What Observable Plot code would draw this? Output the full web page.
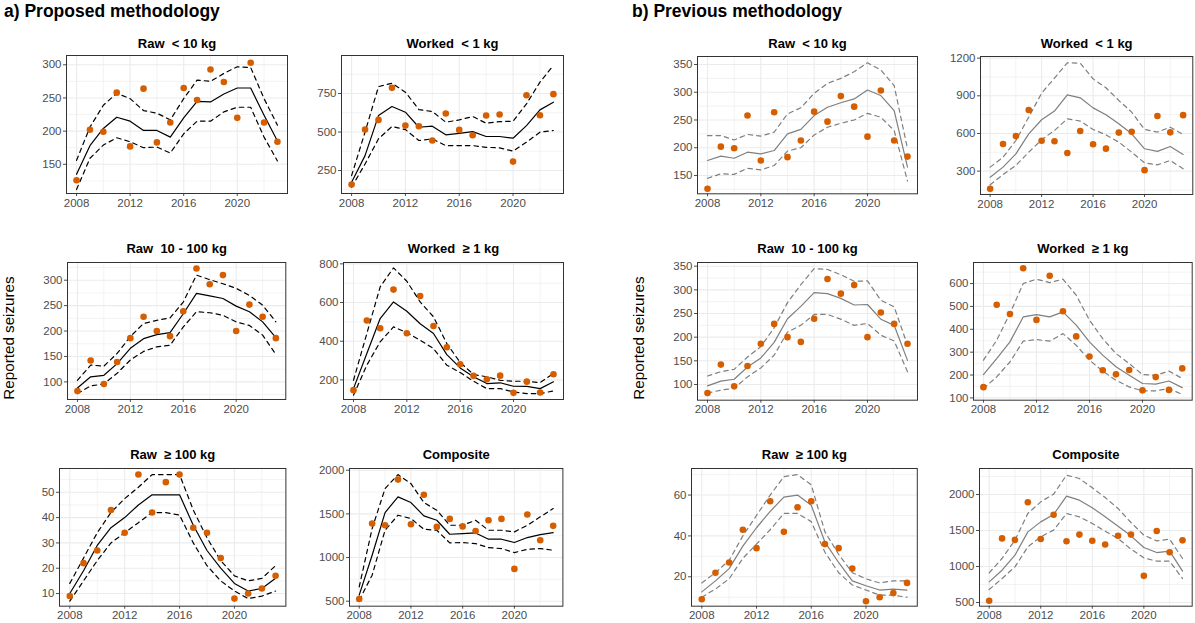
<!DOCTYPE html>
<html><head><meta charset="utf-8">
<script src="https://cdn.jsdelivr.net/npm/d3@7"></script>
<script src="https://cdn.jsdelivr.net/npm/@observablehq/plot@0.6"></script>
<style>
body{margin:0;background:#fff;font-family:"Liberation Sans",Arial,sans-serif;}
#wrap{position:relative;width:1195px;height:623px;overflow:hidden;background:#fff;}
.panel{position:absolute;}
.main{position:absolute;font-weight:bold;font-size:17.5px;top:1px;color:#000;white-space:nowrap;}
.ytitle{position:absolute;font-size:15.2px;color:#000;white-space:nowrap;transform:translate(-50%,-50%) rotate(-90deg);}
</style></head><body><div id="wrap"></div>
<script>
// ---------- data ----------
const years = [2008,2009,2010,2011,2012,2013,2014,2015,2016,2017,2018,2019,2020,2021,2022,2023];
const xTicks = [2008,2012,2016,2020];

// Raw < 10 kg
const obsRS   = [126,202,199,258,177,264,183,213,265,247,293,274,220,303,213,184];
const propRSmid = [135,178,204,221,215,201,201,191,220,245,244,256,265,265,224,185];
const propRSlo  = [112,159,179,190,184,175,176,167,196,215,215,229,236,236,191,155];
const propRShi  = [156,206,239,257,249,231,227,217,249,277,275,287,297,296,249,209];
const prevRSmid = [177,185,181,192,189,195,225,233,258,273,281,288,304,294,267,165];
const prevRSlo  = [145,153,152,163,160,168,194,200,223,237,244,250,262,255,231,140];
const prevRShi  = [222,222,214,224,221,228,261,272,298,316,325,337,353,340,312,198];

// Worked < 1 kg
const obsWS   = [159,516,579,787,542,538,445,620,514,479,607,614,308,739,609,746];
const propWSmid = [174,347,607,666,629,531,538,482,492,503,471,471,460,542,644,694];
const propWSlo  = [142,293,456,536,516,445,456,412,412,412,401,397,376,434,499,510];
const propWShi  = [217,500,795,817,759,646,633,564,579,601,557,568,570,683,824,932];
const prevWSmid = [252,332,438,597,709,778,908,884,804,749,677,597,478,457,496,433];
const prevWSlo  = [191,273,345,451,550,624,717,699,632,589,531,451,366,350,385,319];
const prevWShi  = [332,411,544,730,921,1041,1163,1160,1035,964,863,770,632,611,650,592];

// Raw 10 - 100 kg
const obsRM   = [82,142,96,139,186,228,200,190,239,323,292,310,200,252,228,186];
const propRMmid = [88,110,113,136,166,185,193,197,234,274,269,264,249,238,218,187];
const propRMlo  = [77,92,96,117,143,160,169,172,208,238,236,231,218,211,192,154];
const propRMhi  = [103,133,131,156,189,215,221,226,257,310,301,293,284,270,251,218];
const prevRMmid = [97,107,111,137,156,189,239,265,294,292,282,268,269,238,225,151];
const prevRMlo  = [82,88,92,116,135,162,211,225,248,248,238,225,229,204,192,127];
const prevRMhi  = [118,127,132,158,180,220,273,311,345,343,332,318,319,278,264,183];

// Worked >= 1 kg
const obsWL   = [147,507,467,667,441,634,479,369,281,221,203,222,133,191,135,229];
const propWLmid = [155,336,517,603,555,490,440,331,262,216,181,185,167,166,155,190];
const propWLlo  = [121,276,397,474,445,405,362,276,238,193,155,155,138,129,129,143];
const propWLhi  = [198,440,681,779,710,603,526,388,290,228,216,198,193,193,186,233];
const prevWLmid = [202,272,345,454,464,454,476,418,345,287,236,199,163,160,174,145];
const prevWLlo  = [141,192,257,348,355,348,381,330,265,217,177,148,131,131,141,115];
const prevWLhi  = [265,352,469,600,619,604,619,549,440,359,294,250,202,199,217,185];

// Raw >= 100 kg
const obsRL   = [9,22,27,43,34,57,42,54,57,36,34,24,8,10,12,17];
const propRLmid = [10,19,29,36,40,45,49,49,49,37,27,20,14,11,12,16];
const propRLlo  = [7,15,23,30,34,38,42,42,41,30,21,15,11,8,9,11];
const propRLhi  = [14,24,34,42,47.5,52,57,57,57,43,32,23,17,15,16,21];
const prevRLmid = [12.6,18,24,35,44,52,59,60,55,37,27,18,15.6,13.5,14,13.5];
const prevRLlo  = [10,14,19,29,36,43,51,51,47,32,22,16,13.5,11,11,10];
const prevRLhi  = [17,22,28,40,50,60,69,70,65,42,31,22,19,17,18,18];

// Composite
const obsCP   = [525,1390,1370,1893,1381,1719,1351,1443,1357,1305,1428,1443,870,1493,1199,1363];
const propCPmid = [569,1027,1515,1695,1630,1477,1427,1267,1275,1282,1210,1210,1172,1229,1263,1286];
const propCPlo  = [511,798,1313,1485,1447,1324,1313,1168,1172,1160,1114,1103,1057,1095,1103,1084];
const propCPhi  = [664,1332,1790,1950,1847,1630,1542,1370,1370,1427,1313,1313,1294,1370,1466,1561];
const prevCPmid = [787,949,1157,1481,1620,1722,1977,1921,1815,1690,1560,1426,1264,1194,1213,935];
const prevCPlo  = [680,833,995,1273,1412,1505,1736,1690,1597,1491,1389,1241,1120,1074,1074,833];
const prevCPhi  = [912,1111,1366,1736,1898,2005,2269,2222,2093,1958,1806,1611,1435,1356,1380,1111];

// tick labels
const ticksRSprop = [150,200,250,300];
const ticksWSprop = [250,500,750];
const ticksRSprev = [150,200,250,300,350];
const ticksWSprev = [300,600,900,1200];
const ticksRMprop = [100,150,200,250,300];
const ticksWLprop = [200,400,600,800];
const ticksRMprev = [100,150,200,250,300,350];
const ticksWLprev = [100,200,300,400,500,600];
const ticksRLprop = [10,20,30,40,50];
const ticksCPprop = [500,1000,1500,2000];
const ticksRLprev = [20,40,60];
const ticksCPprev = [500,1000,1500,2000];

// ---------- layout ----------
const PROP = "#000000", PREV = "#7f7f7f", DOT = "#D55E00";
const panels = [
  {title:"Raw  < 10 kg", obs:obsRS, mid:propRSmid, lo:propRSlo, hi:propRShi, c:PROP, x0:66, x1:287, y0:55, y1:193, yd:[106,314], yt:ticksRSprop, tdy:-12},
  {title:"Worked  < 1 kg", obs:obsWS, mid:propWSmid, lo:propWSlo, hi:propWShi, c:PROP, x0:340.7, x1:562.7, y0:55, y1:193, yd:[101,997], yt:ticksWSprop, tdy:-12},
  {title:"Raw  < 10 kg", obs:obsRS, mid:prevRSmid, lo:prevRSlo, hi:prevRShi, c:PREV, x0:696.5, x1:916.5, y0:56, y1:193.3, yd:[117,364.4], yt:ticksRSprev, tdy:-13},
  {title:"Worked  < 1 kg", obs:obsWS, mid:prevWSmid, lo:prevWSlo, hi:prevWShi, c:PREV, x0:979.7, x1:1192, y0:56, y1:194, yd:[114,1213], yt:ticksWSprev, tdy:-13},
  {title:"Raw  10 - 100 kg", obs:obsRM, mid:propRMmid, lo:propRMlo, hi:propRMhi, c:PROP, x0:66.7, x1:285, y0:262.3, y1:399.3, yd:[65.4,334.8], yt:ticksRMprop, tdy:-14},
  {title:"Worked  \u2265 1 kg", obs:obsWL, mid:propWLmid, lo:propWLlo, hi:propWLhi, c:PROP, x0:342.7, x1:562.7, y0:262.3, y1:399.3, yd:[98.6,807], yt:ticksWLprop, tdy:-14},
  {title:"Raw  10 - 100 kg", obs:obsRM, mid:prevRMmid, lo:prevRMlo, hi:prevRMhi, c:PREV, x0:696.5, x1:916.5, y0:262.3, y1:400, yd:[66.8,357.8], yt:ticksRMprev, tdy:-14},
  {title:"Worked  \u2265 1 kg", obs:obsWL, mid:prevWLmid, lo:prevWLlo, hi:prevWLhi, c:PREV, x0:973.3, x1:1192, y0:262.3, y1:400, yd:[90,692], yt:ticksWLprev, tdy:-14},
  {title:"Raw  \u2265 100 kg", obs:obsRL, mid:propRLmid, lo:propRLlo, hi:propRLhi, c:PROP, x0:59.3, x1:285.7, y0:468.3, y1:606, yd:[5,59.4], yt:ticksRLprop, tdy:-14},
  {title:"Composite", obs:obsCP, mid:propCPmid, lo:propCPlo, hi:propCPhi, c:PROP, x0:349.3, x1:562.7, y0:468.3, y1:606, yd:[443,2020], yt:ticksCPprop, tdy:-14},
  {title:"Raw  \u2265 100 kg", obs:obsRL, mid:prevRLmid, lo:prevRLlo, hi:prevRLhi, c:PREV, x0:690.7, x1:916.5, y0:468.3, y1:606, yd:[5.6,73], yt:ticksRLprev, tdy:-14},
  {title:"Composite", obs:obsCP, mid:prevCPmid, lo:prevCPlo, hi:prevCPhi, c:PREV, x0:979.3, x1:1192, y0:468.3, y1:606, yd:[449,2361], yt:ticksCPprev, tdy:-14}
];

const wrap = document.getElementById("wrap");
const FONT = '"Liberation Sans", Arial, sans-serif';

function minorOf(ticks, dom){
  const step = ticks[1]-ticks[0];
  const m = ticks.map(t => t - step/2).concat([ticks[ticks.length-1] + step/2]);
  return m.filter(v => v >= dom[0] && v <= dom[1]);
}

for (const p of panels){
  const mL=46, mR=4, mT=30, mB=24;
  const rows = years.map((y,i) => ({year:y, obs:p.obs[i], mid:p.mid[i], lo:p.lo[i], hi:p.hi[i]}));
  const xMinor = minorOf(xTicks, [2007.25, 2023.75]);
  const yMinor = minorOf(p.yt, p.yd);
  const svg = Plot.plot({
    width: p.x1 - p.x0 + mL + mR,
    height: p.y1 - p.y0 + mT + mB,
    marginLeft: mL, marginRight: mR, marginTop: mT, marginBottom: mB,
    style: {fontFamily: FONT, fontSize: "11.5px", color: "#4d4d4d", background: "transparent", overflow: "visible"},
    x: {domain: [2007.25, 2023.75], ticks: xTicks, tickFormat: d => String(d), tickSize: 3, tickPadding: 2, label: null},
    y: {domain: p.yd, ticks: p.yt, tickFormat: d => String(d), tickSize: 3, tickPadding: 2, label: null},
    marks: [
      Plot.ruleX(xMinor, {stroke: "#EBEBEB", strokeWidth: 0.6}),
      Plot.ruleY(yMinor, {stroke: "#EBEBEB", strokeWidth: 0.6}),
      Plot.ruleX(xTicks, {stroke: "#EBEBEB", strokeWidth: 1.1}),
      Plot.ruleY(p.yt, {stroke: "#EBEBEB", strokeWidth: 1.1}),
      Plot.line(rows, {x: "year", y: "hi", stroke: p.c, strokeWidth: 1.2, strokeDasharray: "4.5,4"}),
      Plot.line(rows, {x: "year", y: "lo", stroke: p.c, strokeWidth: 1.2, strokeDasharray: "4.5,4"}),
      Plot.line(rows, {x: "year", y: "mid", stroke: p.c, strokeWidth: 1.2}),
      Plot.dot(rows, {x: "year", y: "obs", r: 3.3, fill: DOT, stroke: "none"}),
      Plot.frame({stroke: "#333333", strokeWidth: 1}),
      Plot.text([p.title], {text: d => d, frameAnchor: "top", lineAnchor: "middle", dy: p.tdy, fontWeight: "bold", fontSize: 13, fill: "#000"})
    ]
  });
  svg.classList.add("panel");
  svg.style.left = (p.x0 - mL) + "px";
  svg.style.top = (p.y0 - mT) + "px";
  svg.style.maxWidth = "none";
  wrap.appendChild(svg);
}

function addDiv(cls, text, css){
  const d = document.createElement("div");
  d.className = cls; d.textContent = text;
  Object.assign(d.style, css);
  wrap.appendChild(d);
}
addDiv("main", "a) Proposed methodology", {left: "4px"});
addDiv("main", "b) Previous methodology", {left: "632px"});
addDiv("ytitle", "Reported seizures", {left: "8px", top: "338px"});
addDiv("ytitle", "Reported seizures", {left: "638px", top: "338px"});
</script></body></html>
